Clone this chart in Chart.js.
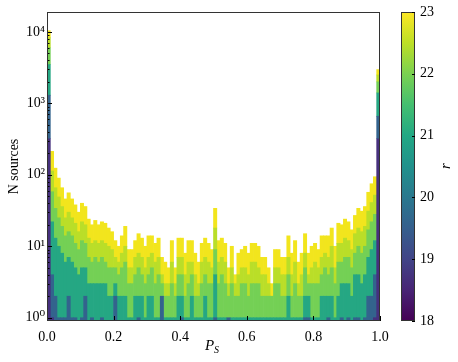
<!DOCTYPE html>
<html>
<head>
<meta charset="utf-8">
<script src="https://cdn.jsdelivr.net/npm/chart.js@4.4.1/dist/chart.umd.min.js"></script>
<style>
  html, body { margin: 0; padding: 0; background: #fff; }
  #wrap { width: 458px; height: 362px; }
</style>
</head>
<body>
<div id="wrap"><canvas id="chart" width="458" height="362"></canvas></div>
<script>
// P_S histogram, 100 bins of 0.01, each bin stacked by r magnitude class (bright at the bottom)
const binWidth = 0.01;
const rClasses = ['18-19.5', '19.5-20.5', '20.5-21.5', '21.5-22.2', '22.2-22.6', '22.6-23'];
const rColors = ['#46307e', '#33638d', '#25a783', '#74d055', '#bade28', '#f2e51d'];

const countsR18 = [320,1,0,0,0,0,0,0,0,0, 0,0,0,0,0,0,0,0,0,0, 0,0,0,0,0,0,0,0,0,0, 0,0,0,0,0,0,0,0,0,0,
  0,0,0,0,0,0,0,0,0,0, 0,0,0,0,0,0,0,0,0,0, 0,0,0,0,0,0,0,0,0,0, 0,0,0,0,0,0,0,0,0,0,
  0,0,0,0,0,0,0,0,0,0, 0,0,0,0,0,0,0,0,1,320];
const countsR195 = [980,3,2,1,1,1,2,1,1,0, 1,2,0,1,0,0,1,0,0,0, 2,0,0,0,0,0,0,1,0,0, 0,0,0,0,2,0,0,0,0,0,
  1,0,0,0,0,0,0,0,0,0, 1,0,0,0,1,0,0,0,0,0, 0,0,0,0,0,0,0,0,0,0, 0,0,0,0,0,0,0,1,1,0,
  0,0,0,0,1,0,0,0,1,0, 1,0,1,1,0,1,2,2,3,340];
const countsR205 = [2200,18,11,9,7,5,5,5,4,4, 4,3,3,2,3,3,2,3,2,2, 1,2,2,2,1,1,2,1,2,1, 2,2,1,1,0,1,1,1,1,2,
  1,1,1,2,1,1,1,2,1,1, 3,1,1,1,0,1,1,1,1,1, 1,1,1,1,1,1,1,1,1,1, 1,1,2,1,1,1,1,1,1,1,
  1,1,2,2,1,2,1,2,2,3, 2,2,3,3,3,3,5,7,8,740];
const countsR215 = [2500,36,21,15,11,8,9,8,6,5, 7,6,4,3,4,3,4,3,3,3, 2,2,3,4,2,2,2,3,2,2, 2,3,2,3,1,1,1,2,1,2,
  2,1,2,2,1,1,2,2,2,2, 5,2,3,2,1,2,1,1,2,2, 1,2,2,2,1,1,1,1,2,2, 1,1,2,1,2,1,1,3,1,2,
  2,2,2,3,2,3,2,4,3,4, 4,3,4,6,5,6,10,13,16,600];
const countsR222 = [2300,55,32,24,17,11,14,11,10,7, 10,9,6,5,5,5,5,5,5,4, 2,2,3,4,2,2,3,3,3,2, 3,3,3,3,1,1,1,3,1,3,
  3,2,3,2,2,1,3,3,3,2, 9,3,3,3,1,2,1,2,2,2, 2,3,3,2,2,2,1,0,2,2, 2,2,3,2,3,1,2,3,1,2,
  3,2,3,3,3,5,2,5,5,6, 5,4,7,8,8,9,14,19,24,500];
const countsR226 = [2100,100,58,41,30,21,26,21,17,14, 18,16,11,9,11,9,10,10,8,7, 5,4,6,9,4,4,5,7,6,5, 7,6,5,6,3,3,2,6,2,6,
  6,4,6,6,4,3,5,6,5,4, 16,6,6,5,2,5,1,4,4,5, 4,5,5,5,3,3,2,1,4,4, 3,3,7,4,6,3,4,7,4,5,
  5,4,7,6,7,8,5,10,9,11, 10,8,12,16,15,17,26,34,42,470];

const classCounts = [countsR18, countsR195, countsR205, countsR215, countsR222, countsR226];

const yMajor = [1, 10, 100, 1000, 10000];
const yLabels = ['10\u2070', '10\u00b9', '10\u00b2', '10\u00b3', '10\u2074'];
const cbStops = ['#440154', '#482475', '#414487', '#355f8d', '#2a788e', '#21918c', '#22a884', '#44bf70', '#7ad151', '#bddf26', '#fde725'];

const serif = "'Liberation Serif', 'DejaVu Serif', serif";

const datasets = classCounts.map((counts, k) => ({
  label: rClasses[k],
  data: counts.map((n, i) => ({ x: (i + 0.5) * binWidth, y: n > 0 ? n : null })),
  backgroundColor: rColors[k],
  borderWidth: 0,
  barPercentage: 1,
  categoryPercentage: 1,
  stack: 'r'
}));

const extras = {
  id: 'extras',
  afterDraw(chart) {
    const ctx = chart.ctx;
    const a = chart.chartArea;
    const xs = chart.scales.x, ys = chart.scales.y, cb = chart.scales.cb;
    ctx.save();

    // inward ticks
    ctx.strokeStyle = '#000';
    ctx.lineWidth = 1;
    ctx.beginPath();
    ys.ticks.forEach(t => {
      const y = Math.round(ys.getPixelForValue(t.value)) + 0.5;
      const len = yMajor.includes(t.value) ? 5 : 2.5;
      ctx.moveTo(a.left, y); ctx.lineTo(a.left + len, y);
    });
    xs.ticks.forEach(t => {
      const x = Math.round(xs.getPixelForValue(t.value)) + 0.5;
      ctx.moveTo(x, a.bottom); ctx.lineTo(x, a.bottom - 5);
    });
    ctx.stroke();

    // frame
    ctx.strokeStyle = '#333';
    ctx.strokeRect(a.left + 0.5, a.top + 0.5, a.right - a.left - 1, a.bottom - a.top - 1);

    // colorbar
    const x0 = a.right + 21, w = 14;
    const yTop = cb.getPixelForValue(23), yBot = cb.getPixelForValue(18);
    const g = ctx.createLinearGradient(0, yBot, 0, yTop);
    cbStops.forEach((c, i) => g.addColorStop(i / (cbStops.length - 1), c));
    ctx.fillStyle = g;
    ctx.fillRect(x0, yTop, w, yBot - yTop);
    ctx.strokeStyle = '#333';
    ctx.strokeRect(x0 + 0.5, yTop + 0.5, w - 1, yBot - yTop - 1);
    ctx.strokeStyle = '#000';
    ctx.beginPath();
    cb.ticks.forEach(t => {
      const y = Math.round(cb.getPixelForValue(t.value)) + 0.5;
      ctx.moveTo(x0 + w, y); ctx.lineTo(x0 + w - 3, y);
    });
    ctx.stroke();

    // axis labels
    ctx.fillStyle = '#000';
    ctx.textBaseline = 'alphabetic';
    ctx.font = 'italic 15px ' + serif;
    ctx.fillText('P', 205, 350);
    ctx.font = 'italic 10px ' + serif;
    ctx.fillText('S', 214, 353);

    ctx.translate(450, 166);
    ctx.rotate(-Math.PI / 2);
    ctx.font = 'italic 15px ' + serif;
    ctx.textAlign = 'center';
    ctx.fillText('r', 0, 0);
    ctx.restore();
  }
};

new Chart(document.getElementById('chart'), {
  type: 'bar',
  data: { datasets },
  options: {
    responsive: false,
    animation: false,
    layout: { padding: { top: 12, left: 0, right: 0, bottom: 0 } },
    plugins: { legend: { display: false }, tooltip: { enabled: false } },
    scales: {
      x: {
        type: 'linear', min: 0, max: 1, offset: false, stacked: true,
        grid: { display: false, drawTicks: false },
        border: { display: false },
        ticks: { stepSize: 0.2, padding: 8, color: '#000', autoSkip: false, maxRotation: 0,
          font: { family: serif, size: 14 }, callback: v => Number(v).toFixed(1) },
        afterFit: s => { s.height = 41; }
      },
      y: {
        type: 'logarithmic', min: 0.9, max: 19000, stacked: true,
        grid: { display: false, drawTicks: false },
        border: { display: false },
        afterBuildTicks: s => {
          const t = [];
          yMajor.forEach(m => { for (let k = 1; k <= 9; k++) if (m * k <= 19000) t.push({ value: m * k }); });
          s.ticks = t;
        },
        ticks: { padding: 2, color: '#000', autoSkip: false,
          font: { family: serif, size: 14 },
          callback: v => { const i = yMajor.indexOf(v); return i >= 0 ? yLabels[i] : ''; } },
        title: { display: true, text: 'N sources', color: '#000', font: { family: serif, size: 14 }, padding: { top: 6, bottom: 0 } },
        afterFit: s => { s.width = 47; }
      },
      cb: {
        type: 'linear', position: 'right', min: 18, max: 23,
        grid: { display: false, drawTicks: true, tickLength: 38 },
        border: { display: false },
        ticks: { stepSize: 1, padding: 2, color: '#000', font: { family: serif, size: 14 } },
        afterFit: s => { s.width = 78; }
      }
    }
  },
  plugins: [extras]
});
</script>
</body>
</html>
